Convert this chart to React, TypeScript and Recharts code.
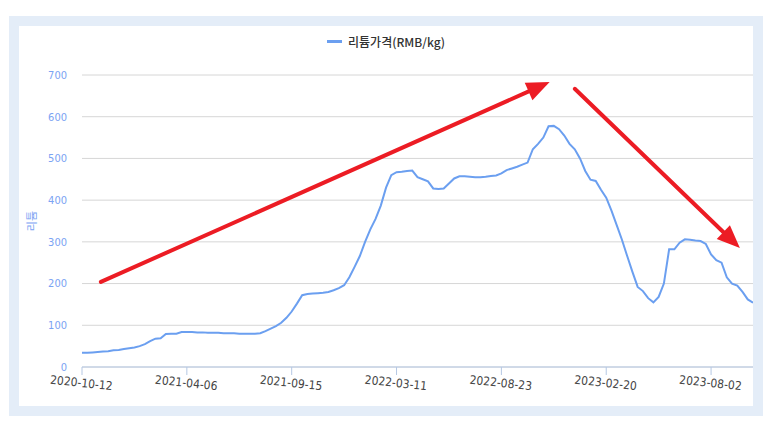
import React from 'react';
import {
  LineChart,
  Line,
  XAxis,
  YAxis,
  CartesianGrid,
  Legend,
  ReferenceLine,
} from 'recharts';

// x-axis labels, one every 20 samples
const tickLabels = [
  '2020-10-12',
  '2021-04-06',
  '2021-09-15',
  '2022-03-11',
  '2022-08-23',
  '2023-02-20',
  '2023-08-02',
];

// lithium price (RMB/kg), sampled evenly along the axis
const prices = [
  34, 34, 35, 36, 37, 38, 40, 41, 43, 45,
  47, 50, 55, 62, 68, 69, 79, 80, 80, 84,
  84, 84, 83, 83, 82, 82, 82, 81, 81, 81,
  80, 80, 80, 80, 81, 86, 92, 98, 106, 118,
  133, 152, 172, 175, 176, 177, 178, 180, 184, 189,
  196, 215, 240, 266, 300, 330, 355, 387, 430, 460,
  467, 468, 470, 471, 455, 450, 445, 428, 427, 428,
  440, 452, 457, 457, 456, 455, 455, 456, 458, 459,
  464, 472, 476, 480, 485, 490, 522, 535, 550, 577,
  578, 570, 555, 535, 522, 500, 470, 449, 446, 425,
  406, 375, 340, 305, 266, 228, 192, 182, 165, 155,
  168, 200, 282, 282, 298, 306, 305, 303, 302, 295,
  270, 256, 250, 215, 200, 195, 180, 162, 154,
];

const yTicks = [0, 100, 200, 300, 400, 500, 600, 700];

// red annotation arrows (tail -> head), in data units
const arrows = [
  { x1: 3.6, y1: 204, x2: 89.2, y2: 683 },
  { x1: 94.0, y1: 667, x2: 125.5, y2: 285 },
];

const data = prices.map((price, i) => ({ i, price }));
const lastIndex = prices.length - 1;
const STEP = 20;
const xTicks = tickLabels.map((_, k) => k * STEP);

const LINE_COLOR = '#6b9ff0';
const AXIS_BLUE = '#7ba3f3';
const RED = '#ec1c24';

const DateTick = ({ x, y, payload }: any) => (
  <g transform={`translate(${x},${y})`}>
    <text
      textAnchor="middle"
      dy={10}
      transform="rotate(6)"
      fill="#444"
      fontSize={12}
      fontFamily="'DejaVu Sans Condensed', 'DejaVu Sans', sans-serif"
    >
      {tickLabels[Math.round(payload.value / STEP)]}
    </text>
  </g>
);

const Arrow = (props: any) => {
  const { x1, y1, x2, y2 } = props;
  const dx = x2 - x1;
  const dy = y2 - y1;
  const len = Math.sqrt(dx * dx + dy * dy) || 1;
  const ux = dx / len;
  const uy = dy / len;
  const headLen = 23;
  const halfW = 9.5;
  const bx = x2 - ux * headLen;
  const by = y2 - uy * headLen;
  const pts = [
    `${x2},${y2}`,
    `${bx - uy * halfW},${by + ux * halfW}`,
    `${bx + uy * halfW},${by - ux * halfW}`,
  ].join(' ');
  return (
    <g>
      <line
        x1={x1}
        y1={y1}
        x2={bx + ux * 2}
        y2={by + uy * 2}
        stroke={RED}
        strokeWidth={4}
        strokeLinecap="round"
      />
      <polygon points={pts} fill={RED} />
    </g>
  );
};

const LegendContent = () => (
  <div
    style={{
      height: 45,
      display: 'flex',
      justifyContent: 'center',
      alignItems: 'flex-start',
    }}
  >
    <div style={{ height: 22, display: 'flex', alignItems: 'center', gap: 6 }}>
      <span style={{ width: 15, height: 3, background: LINE_COLOR, display: 'inline-block' }} />
      <span
        style={{
          fontSize: 12,
          color: '#333',
          fontWeight: 500,
          fontFamily: "'Noto Sans CJK KR', 'Noto Sans', sans-serif",
        }}
      >
        리튬가격(RMB/kg)
      </span>
    </div>
  </div>
);

export default function App() {
  return (
    <div
      style={{
        position: 'absolute',
        left: 0,
        top: 0,
        width: 773,
        height: 433,
        background: '#fff',
      }}
    >
      <div
        style={{
          position: 'absolute',
          left: 9,
          top: 16,
          width: 754,
          height: 400,
          background: '#e4edf8',
        }}
      >
        <div
          style={{
            position: 'absolute',
            left: 10,
            top: 10,
            width: 734,
            height: 380,
            background: '#fff',
          }}
        >
          <LineChart
            width={734}
            height={380}
            data={data}
            margin={{ top: 4, right: 0, left: 0, bottom: 0 }}
          >
            <Legend verticalAlign="top" content={<LegendContent />} />
            <CartesianGrid stroke="#d6d6d6" vertical={false} />
            <XAxis
              type="number"
              dataKey="i"
              domain={[0, lastIndex]}
              ticks={xTicks}
              interval={0}
              height={39}
              tickSize={8}
              stroke="#b5c8e4"
              tick={<DateTick />}
            />
            <YAxis
              domain={[0, 700]}
              ticks={yTicks}
              width={63}
              axisLine={false}
              tickLine={false}
              tickMargin={9}
              tick={{
                fill: AXIS_BLUE,
                fontSize: 11,
                fontFamily: "'DejaVu Sans Condensed', 'DejaVu Sans', sans-serif",
              }}
              label={{
                value: '리튬',
                angle: -90,
                position: 'center',
                dx: -18,
                fill: AXIS_BLUE,
                fontSize: 11,
                fontFamily: "'Noto Sans CJK KR', sans-serif",
              }}
            />
            <Line
              type="linear"
              dataKey="price"
              stroke={LINE_COLOR}
              strokeWidth={2}
              dot={false}
              isAnimationActive={false}
            />
            {arrows.map((a, k) => (
              <ReferenceLine
                key={k}
                segment={[
                  { x: a.x1, y: a.y1 },
                  { x: a.x2, y: a.y2 },
                ]}
                ifOverflow="visible"
                shape={<Arrow />}
              />
            ))}
          </LineChart>
        </div>
      </div>
    </div>
  );
}
